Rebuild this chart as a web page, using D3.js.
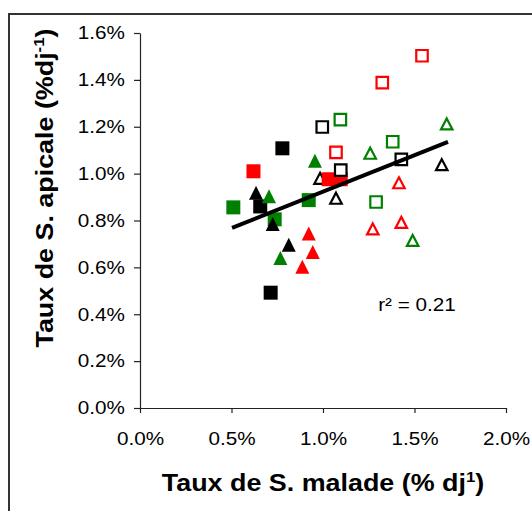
<!DOCTYPE html>
<html><head><meta charset="utf-8">
<script src="https://cdn.jsdelivr.net/npm/d3@7"></script>
<style>
html,body{margin:0;padding:0;background:#fff;}
svg{display:block;font-family:"Liberation Sans",Arial,sans-serif;}
</style></head>
<body>
<svg id="chart" width="532" height="511"></svg>
<script>
// ---- data (values in % per degree-day) ----
const xTicks = [0, 0.5, 1.0, 1.5, 2.0];
const yTicks = [0, 0.2, 0.4, 0.6, 0.8, 1.0, 1.2, 1.4, 1.6];

const redSqFilled   = [[0.62,1.01],[1.031,0.976],[1.097,0.976]];
const greenSqFilled = [[0.51,0.856],[0.736,0.805],[0.922,0.887]];
const blackSqFilled = [[0.778,1.108],[0.657,0.86],[0.714,0.492]];
const redTriFilled  = [[0.922,0.745],[0.944,0.666],[0.887,0.603]];
const greenTriFilled= [[0.705,0.904],[0.767,0.64],[0.956,1.055]];
const blackTriFilled= [[0.634,0.918],[0.725,0.785],[0.813,0.697]];
const redSqOpen     = [[1.541,1.503],[1.324,1.388],[1.071,1.091]];
const greenSqOpen   = [[1.095,1.23],[1.381,1.136],[1.29,0.879]];
const blackSqOpen   = [[0.996,1.199],[1.428,1.061],[1.097,1.015]];
const redTriOpen    = [[1.415,0.961],[1.428,0.792],[1.272,0.764]];
const greenTriOpen  = [[1.676,1.212],[1.258,1.087],[1.49,0.715]];
const blackTriOpen  = [[1.649,1.038],[0.984,0.98],[1.071,0.895]];

const trendX = [0.503, 1.683];
const trendSlope = 0.311;
const trendIntercept = 0.612;
const r2Label = "r² = 0.21";

// ---- layout ----
const svg = d3.select("#chart");
const x = d3.scaleLinear().domain([0, 2.0]).range([140, 506]);
const y = d3.scaleLinear().domain([0, 1.6]).range([408, 33]);
const SX = 1.15; // horizontal text stretch

// outer frame
svg.append("rect").attr("x", 9).attr("y", 14).attr("width", 540).attr("height", 520)
  .attr("fill", "none").attr("stroke", "#333").attr("stroke-width", 2);

const fmt = d => d.toFixed(1) + "%";

// y axis
const gy = svg.append("g").attr("transform", "translate(140,0)")
  .call(d3.axisLeft(y).tickValues(yTicks).tickFormat(fmt).tickSizeOuter(0).tickSizeInner(6));
gy.selectAll("text").attr("x", -15 / SX).attr("transform", `scale(${SX},1)`)
  .attr("font-size", 18).attr("fill", "#000").attr("font-family", "Liberation Sans, Arial, sans-serif");

// x axis
const gx = svg.append("g").attr("transform", "translate(0,408)")
  .call(d3.axisBottom(x).tickValues(xTicks).tickFormat(fmt).tickSizeOuter(0).tickSizeInner(5));
gx.selectAll("text").attr("y", 0).attr("dy", 0).attr("transform", `translate(0,37) scale(${SX},1)`)
  .attr("font-size", 18).attr("fill", "#000").attr("font-family", "Liberation Sans, Arial, sans-serif");
svg.selectAll(".domain, .tick line").attr("stroke", "#222").attr("stroke-width", 1.2);

// markers
const triType = (w, h) => ({ draw(ctx) {
  ctx.moveTo(0, -h / 2); ctx.lineTo(w / 2, h / 2); ctx.lineTo(-w / 2, h / 2); ctx.closePath();
}});
const sqType = (s) => ({ draw(ctx) { ctx.rect(-s / 2, -s / 2, s, s); } });

function drawSeries(data, type, color, filled) {
  svg.append("g").selectAll("path").data(data).join("path")
    .attr("transform", d => `translate(${x(d[0])},${y(d[1])})`)
    .attr("d", d3.symbol().type(type))
    .attr("fill", filled ? color : "#fff")
    .attr("stroke", filled ? "none" : color)
    .attr("stroke-width", filled ? 0 : 2.2);
}
const openTri = triType(11.5, 11), openSq = sqType(11.5);
const fillTri = triType(14, 14), fillSq = sqType(14);

drawSeries(redTriOpen, openTri, "#ff0000", false);
drawSeries(greenTriOpen, openTri, "#008000", false);
drawSeries(blackTriOpen, openTri, "#000", false);
drawSeries(greenSqFilled, fillSq, "#008000", true);
drawSeries(blackSqFilled, fillSq, "#000", true);
drawSeries(redSqFilled, fillSq, "#ff0000", true);
drawSeries(greenTriFilled, fillTri, "#008000", true);
drawSeries(redTriFilled, fillTri, "#ff0000", true);
drawSeries(blackTriFilled, fillTri, "#000", true);
drawSeries(redSqOpen, openSq, "#ff0000", false);
drawSeries(greenSqOpen, openSq, "#008000", false);
drawSeries(blackSqOpen, openSq, "#000", false);

// trend line
svg.append("line")
  .attr("x1", x(trendX[0])).attr("y1", y(trendIntercept + trendSlope * trendX[0]))
  .attr("x2", x(trendX[1])).attr("y2", y(trendIntercept + trendSlope * trendX[1]))
  .attr("stroke", "#000").attr("stroke-width", 4);

// r² label
svg.append("text").attr("transform", `translate(417,311) scale(${SX},1)`)
  .attr("text-anchor", "middle").attr("font-size", 18).text(r2Label);

// x title
const xt = svg.append("text").attr("transform", `translate(323,491) scale(1.12,1)`)
  .attr("text-anchor", "middle").attr("font-size", 24).attr("font-weight", "bold");
xt.append("tspan").text("Taux de S. malade (% dj");
xt.append("tspan").attr("dy", -9).attr("font-size", 15).text("1");
xt.append("tspan").attr("dy", 9).text(")");

// y title
const yt = svg.append("text").attr("transform", `translate(53,188) rotate(-90) scale(1.12,1)`)
  .attr("text-anchor", "middle").attr("font-size", 24).attr("font-weight", "bold");
yt.append("tspan").text("Taux de S. apicale (%dj");
yt.append("tspan").attr("dy", -9).attr("font-size", 15).text("-1");
yt.append("tspan").attr("dy", 9).text(")");
</script>
</body></html>
